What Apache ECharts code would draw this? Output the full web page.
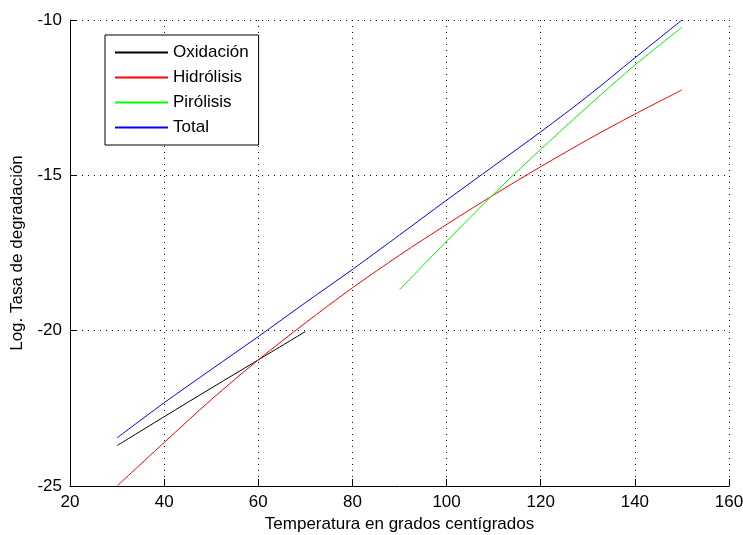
<!DOCTYPE html>
<html>
<head>
<meta charset="utf-8">
<script src="https://cdn.jsdelivr.net/npm/echarts@6/dist/echarts.min.js"></script>
<style>
  html, body { margin: 0; padding: 0; background: #fff; }
  #chart { width: 743px; height: 535px; }
</style>
</head>
<body>
<div id="chart"></div>
<script>
// datos
const tempOx = [30, 40, 50, 60, 70]
const oxidacion = [-23.7, -22.77, -21.85, -20.94, -20.03]

const tempHid = [30, 40, 50, 60, 70, 80, 90, 100, 110, 120, 130, 140, 150]
const hidrolisis = [-25.0, -23.6, -22.22, -20.94, -19.75, -18.62, -17.57, -16.58, -15.63, -14.72, -13.85, -13.03, -12.25]

const tempPir = [90, 100, 110, 120, 130, 140, 150]
const pirolisis = [-18.68, -17.12, -15.6, -14.16, -12.78, -11.45, -10.23]

const tempTot = [30, 40, 50, 60, 70, 80, 90, 100, 110, 120, 130, 140, 150]
const total = [-23.45, -22.32, -21.25, -20.19, -19.1, -18.03, -16.92, -15.8, -14.7, -13.6, -12.45, -11.22, -10.0]

const seriesNames = ["Oxidación", "Hidrólisis", "Pirólisis", "Total"]
const seriesColors = ["#000000", "#ff0000", "#00ff00", "#0000ff"]

const FONT = "Arial, 'Liberation Sans', sans-serif"

function zip(xs, ys) {
  return xs.map((x, i) => [x, ys[i]])
}

const chart = echarts.init(document.getElementById("chart"))

const dotted = { color: "#111", width: 1, type: [1, 5] }

let options = {
  animation: false,
  backgroundColor: "#ffffff",
  grid: { left: 70, right: 14, top: 20, bottom: 49, containLabel: false, outerBoundsMode: "none" },
  legend: {
    orient: "vertical",
    left: 105,
    top: 35,
    padding: [9, 10, 9, 10],
    backgroundColor: "#ffffff",
    borderColor: "#000000",
    borderWidth: 1,
    borderRadius: 0,
    icon: "rect",
    itemWidth: 53,
    itemHeight: 2,
    itemGap: 8,
    textStyle: { fontFamily: FONT, fontSize: 17, lineHeight: 17, color: "#000" },
    data: seriesNames.map((n, i) => ({ name: n, itemStyle: { color: seriesColors[i] } }))
  },
  xAxis: {
    type: "value",
    min: 20,
    max: 160,
    interval: 20,
    name: "Temperatura en grados centígrados",
    nameLocation: "middle",
    nameGap: 28,
    nameTextStyle: { fontFamily: FONT, fontSize: 17, color: "#000" },
    axisLine: { show: true, onZero: false, lineStyle: { color: "#000", width: 1 } },
    axisTick: { show: true, inside: true, length: 7, lineStyle: { color: "#000" } },
    axisLabel: { fontFamily: FONT, fontSize: 17, color: "#000", margin: 8 },
    splitLine: { show: true, lineStyle: dotted }
  },
  yAxis: {
    type: "value",
    min: -25,
    max: -10,
    interval: 5,
    name: "Log. Tasa de degradación",
    nameLocation: "middle",
    nameGap: 44,
    nameTextStyle: { fontFamily: FONT, fontSize: 17, color: "#000" },
    axisLine: { show: true, onZero: false, lineStyle: { color: "#000", width: 1 } },
    axisTick: { show: true, inside: true, length: 7, lineStyle: { color: "#000" } },
    axisLabel: { fontFamily: FONT, fontSize: 17, color: "#000", margin: 8 },
    splitLine: { show: true, lineStyle: dotted }
  },
  series: [
    { name: seriesNames[0], type: "line", data: zip(tempOx, oxidacion) },
    { name: seriesNames[1], type: "line", data: zip(tempHid, hidrolisis) },
    { name: seriesNames[2], type: "line", data: zip(tempPir, pirolisis) },
    { name: seriesNames[3], type: "line", data: zip(tempTot, total) }
  ].map((s, i) => Object.assign(s, {
    showSymbol: false,
    symbol: "none",
    smooth: 0.3,
    color: seriesColors[i],
    itemStyle: { color: seriesColors[i] },
    lineStyle: { color: seriesColors[i], width: 1 }
  }))
}

chart.setOption(options)
</script>
</body>
</html>
